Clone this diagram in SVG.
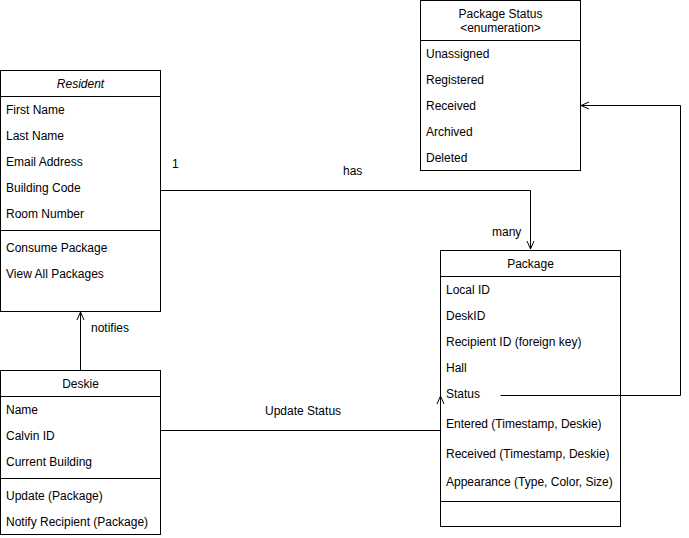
<svg xmlns="http://www.w3.org/2000/svg" width="689" height="538" viewBox="0 0 689 538">
<defs>
<style>
rect{fill:#fff;stroke:#000;stroke-width:1}
.d{stroke:#000;stroke-width:1;fill:none}
text{font-family:"Liberation Sans",Arial,sans-serif;font-size:12px;fill:#000}
.c{text-anchor:middle}
.e{stroke:#000;stroke-width:1;fill:none}
</style>
<marker id="open" viewBox="0 0 10 10" refX="9" refY="5" markerWidth="10" markerHeight="10" markerUnits="userSpaceOnUse" orient="auto">
<path d="M1,1.5 L9,5 L1,8.5" fill="none" stroke="#000" stroke-width="1"/>
</marker>
</defs>
<g id="resident">
<rect x="0.5" y="70.5" width="160" height="241"/>
<path class="d" d="M0.5,96.5 H160.5 M0.5,230.5 H160.5"/>
<text x="80.5" y="88" class="c" font-style="italic">Resident</text>
<text x="6" y="114">First Name</text>
<text x="6" y="140">Last Name</text>
<text x="6" y="166">Email Address</text>
<text x="6" y="192">Building Code</text>
<text x="6" y="218">Room Number</text>
<text x="6" y="252">Consume Package</text>
<text x="6" y="278">View All Packages</text>
</g>
<g id="package-status">
<rect x="420.5" y="0.5" width="160" height="170"/>
<path class="d" d="M420.5,40.5 H580.5"/>
<text x="500.5" y="18" class="c">Package Status</text>
<text x="500.5" y="32" class="c" font-size="11">&lt;enumeration&gt;</text>
<text x="426" y="58">Unassigned</text>
<text x="426" y="84">Registered</text>
<text x="426" y="110">Received</text>
<text x="426" y="136">Archived</text>
<text x="426" y="162">Deleted</text>
</g>
<g id="package">
<rect x="440.5" y="250.5" width="180" height="276"/>
<path class="d" d="M440.5,276.5 H620.5 M440.5,501.5 H620.5"/>
<text x="530.5" y="268" class="c">Package</text>
<text x="446" y="294">Local ID</text>
<text x="446" y="320">DeskID</text>
<text x="446" y="346">Recipient ID (foreign key)</text>
<text x="446" y="372">Hall</text>
<text x="446" y="398">Status</text>
<text x="446" y="428">Entered (Timestamp, Deskie)</text>
<text x="446" y="458">Received (Timestamp, Deskie)</text>
<text x="446" y="486">Appearance (Type, Color, Size)</text>
</g>
<g id="deskie">
<rect x="0.5" y="370.5" width="160" height="164"/>
<path class="d" d="M0.5,396.5 H160.5 M0.5,478.5 H160.5"/>
<text x="80.5" y="388" class="c">Deskie</text>
<text x="6" y="414">Name</text>
<text x="6" y="440">Calvin ID</text>
<text x="6" y="466">Current Building</text>
<text x="6" y="500">Update (Package)</text>
<text x="6" y="526">Notify Recipient (Package)</text>
</g>
<g id="connectors">
<path class="e" d="M160.5,190.5 H530.5 V249" marker-end="url(#open)"/>
<path class="e" d="M80.5,370.5 V312" marker-end="url(#open)"/>
<path class="e" d="M160.5,430.5 H440.5 V396" marker-end="url(#open)"/>
<path class="e" d="M500.5,395.5 H680.5 V105.5 H581" marker-end="url(#open)"/>
<text x="172" y="168">1</text>
<text x="343" y="175">has</text>
<text x="492" y="236">many</text>
<text x="91" y="332">notifies</text>
<text x="265" y="415">Update Status</text>
</g>
</svg>
